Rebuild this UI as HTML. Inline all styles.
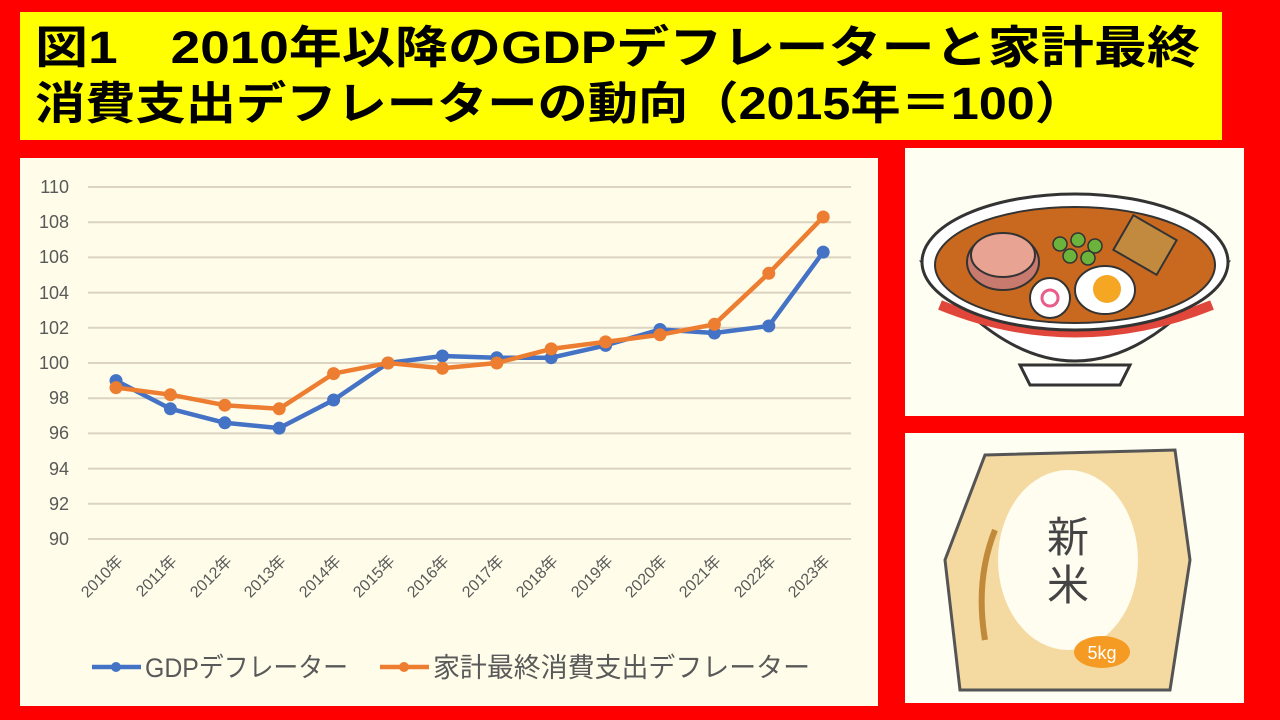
<!DOCTYPE html>
<html><head><meta charset="utf-8"><style>
body{margin:0;width:1280px;height:720px;background:#ff0000;position:relative;overflow:hidden;font-family:"Liberation Sans","Noto Sans CJK JP",sans-serif}
</style></head><body>
<svg style="position:absolute;left:0;top:0" width="1280" height="720" font-family="Liberation Sans, Noto Sans CJK JP, sans-serif">
<rect x="20" y="12" width="1202" height="128" fill="#ffff00"/>
<text x="35" y="63" font-size="45" font-weight="bold" fill="#000" textLength="1165" lengthAdjust="spacingAndGlyphs">図1　2010年以降のGDPデフレーターと家計最終</text>
<text x="35" y="119" font-size="45" font-weight="bold" fill="#000" textLength="1050" lengthAdjust="spacingAndGlyphs">消費支出デフレーターの動向（2015年＝100）</text>
<rect x="20" y="158" width="858" height="548" fill="#fffdea"/>
<g stroke="#dcd3c0" stroke-width="2">
<line x1="88" x2="851" y1="187" y2="187"/><line x1="88" x2="851" y1="222.2" y2="222.2"/><line x1="88" x2="851" y1="257.4" y2="257.4"/><line x1="88" x2="851" y1="292.6" y2="292.6"/><line x1="88" x2="851" y1="327.8" y2="327.8"/><line x1="88" x2="851" y1="363" y2="363"/><line x1="88" x2="851" y1="398.2" y2="398.2"/><line x1="88" x2="851" y1="433.4" y2="433.4"/><line x1="88" x2="851" y1="468.6" y2="468.6"/><line x1="88" x2="851" y1="503.8" y2="503.8"/><line x1="88" x2="851" y1="539" y2="539"/>
</g>
<g fill="#595959" font-size="18" text-anchor="end">
<text x="69" y="193">110</text><text x="69" y="228">108</text><text x="69" y="263">106</text><text x="69" y="299">104</text><text x="69" y="334">102</text><text x="69" y="369">100</text><text x="69" y="404">98</text><text x="69" y="439">96</text><text x="69" y="475">94</text><text x="69" y="510">92</text><text x="69" y="545">90</text>
</g>
<g fill="#595959" font-size="16" text-anchor="end">
<text transform="translate(124,562) rotate(-45)">2010年</text><text transform="translate(178,562) rotate(-45)">2011年</text><text transform="translate(233,562) rotate(-45)">2012年</text><text transform="translate(287,562) rotate(-45)">2013年</text><text transform="translate(342,562) rotate(-45)">2014年</text><text transform="translate(396,562) rotate(-45)">2015年</text><text transform="translate(450,562) rotate(-45)">2016年</text><text transform="translate(505,562) rotate(-45)">2017年</text><text transform="translate(559,562) rotate(-45)">2018年</text><text transform="translate(614,562) rotate(-45)">2019年</text><text transform="translate(668,562) rotate(-45)">2020年</text><text transform="translate(722,562) rotate(-45)">2021年</text><text transform="translate(777,562) rotate(-45)">2022年</text><text transform="translate(831,562) rotate(-45)">2023年</text>
</g>
<polyline fill="none" stroke="#4472c4" stroke-width="4.5" stroke-linejoin="round" points="116,380.6 170.4,408.8 224.8,422.8 279.2,428.1 333.6,400 388,363 442.4,356 496.8,357.7 551.2,357.7 605.6,345.4 660,329.5 714.4,333 768.8,326 823.2,252.1"/>
<g fill="#4472c4"><circle cx="116" cy="380.6" r="6.5"/><circle cx="170.4" cy="408.8" r="6.5"/><circle cx="224.8" cy="422.8" r="6.5"/><circle cx="279.2" cy="428.1" r="6.5"/><circle cx="333.6" cy="400" r="6.5"/><circle cx="388" cy="363" r="6.5"/><circle cx="442.4" cy="356" r="6.5"/><circle cx="496.8" cy="357.7" r="6.5"/><circle cx="551.2" cy="357.7" r="6.5"/><circle cx="605.6" cy="345.4" r="6.5"/><circle cx="660" cy="329.5" r="6.5"/><circle cx="714.4" cy="333" r="6.5"/><circle cx="768.8" cy="326" r="6.5"/><circle cx="823.2" cy="252.1" r="6.5"/></g>
<polyline fill="none" stroke="#ed7d31" stroke-width="4.5" stroke-linejoin="round" points="116,387.6 170.4,394.7 224.8,405.2 279.2,408.8 333.6,373.6 388,363 442.4,368.3 496.8,363 551.2,348.9 605.6,341.9 660,334.8 714.4,324.3 768.8,273.3 823.2,217"/>
<g fill="#ed7d31"><circle cx="116" cy="387.6" r="6.5"/><circle cx="170.4" cy="394.7" r="6.5"/><circle cx="224.8" cy="405.2" r="6.5"/><circle cx="279.2" cy="408.8" r="6.5"/><circle cx="333.6" cy="373.6" r="6.5"/><circle cx="388" cy="363" r="6.5"/><circle cx="442.4" cy="368.3" r="6.5"/><circle cx="496.8" cy="363" r="6.5"/><circle cx="551.2" cy="348.9" r="6.5"/><circle cx="605.6" cy="341.9" r="6.5"/><circle cx="660" cy="334.8" r="6.5"/><circle cx="714.4" cy="324.3" r="6.5"/><circle cx="768.8" cy="273.3" r="6.5"/><circle cx="823.2" cy="217" r="6.5"/></g>
<line x1="92" x2="141" y1="667" y2="667" stroke="#4472c4" stroke-width="4.5"/><circle cx="116" cy="667" r="5" fill="#4472c4"/>
<text x="145" y="677" font-size="27" fill="#595959" textLength="203" lengthAdjust="spacingAndGlyphs">GDPデフレーター</text>
<line x1="380" x2="429" y1="667" y2="667" stroke="#ed7d31" stroke-width="4.5"/><circle cx="404" cy="667" r="5" fill="#ed7d31"/>
<text x="433" y="677" font-size="27" fill="#595959" textLength="377" lengthAdjust="spacingAndGlyphs">家計最終消費支出デフレーター</text>
<!-- ramen panel -->
<rect x="905" y="148" width="339" height="268" fill="#fffef2"/>
<path d="M922,262 Q1075,460 1228,262 Z" fill="#fff" stroke="#333" stroke-width="3"/>
<path d="M940,305 Q1075,360 1212,305" fill="none" stroke="#e0463a" stroke-width="10"/>
<path d="M1020,365 L1130,365 L1120,385 L1030,385 Z" fill="#fff" stroke="#333" stroke-width="3"/>
<ellipse cx="1075" cy="262" rx="153" ry="68" fill="#fff" stroke="#333" stroke-width="3"/>
<ellipse cx="1075" cy="265" rx="140" ry="58" fill="#c9691f" stroke="#333" stroke-width="2"/>
<ellipse cx="1003" cy="262" rx="36" ry="28" fill="#c97a6e" stroke="#333" stroke-width="2"/>
<ellipse cx="1003" cy="255" rx="32" ry="22" fill="#e8a393" stroke="#333" stroke-width="2"/>
<ellipse cx="1105" cy="290" rx="30" ry="24" fill="#fff" stroke="#333" stroke-width="2"/>
<circle cx="1107" cy="289" r="14" fill="#f5a623"/>
<circle cx="1050" cy="298" r="20" fill="#fff" stroke="#333" stroke-width="2"/>
<circle cx="1050" cy="298" r="8" fill="none" stroke="#e85d8a" stroke-width="3"/>
<rect x="1120" y="225" width="50" height="40" fill="#c28a3e" stroke="#333" stroke-width="2" transform="rotate(30 1145 245)"/>
<g fill="#6bb33a" stroke="#333" stroke-width="1.5"><circle cx="1060" cy="244" r="7"/><circle cx="1078" cy="240" r="7"/><circle cx="1095" cy="246" r="7"/><circle cx="1070" cy="256" r="7"/><circle cx="1088" cy="258" r="7"/></g>
<!-- rice panel -->
<rect x="905" y="433" width="339" height="270" fill="#fffef2"/>
<path d="M985,455 L1175,450 L1190,560 L1170,690 L960,690 L945,560 Z" fill="#f4d9a0" stroke="#555" stroke-width="3"/>
<ellipse cx="1068" cy="560" rx="70" ry="90" fill="#fffcf0"/>
<text x="1068" y="552" font-size="42" text-anchor="middle" fill="#444" font-family="Noto Sans CJK JP, sans-serif">新</text>
<text x="1068" y="600" font-size="42" text-anchor="middle" fill="#444" font-family="Noto Sans CJK JP, sans-serif">米</text>
<path d="M985,640 Q975,580 995,530" fill="none" stroke="#c08a3a" stroke-width="6"/>
<ellipse cx="1102" cy="652" rx="28" ry="16" fill="#f59b24"/>
<text x="1102" y="659" font-size="18" text-anchor="middle" fill="#fff">5kg</text>
</svg>
</body></html>
